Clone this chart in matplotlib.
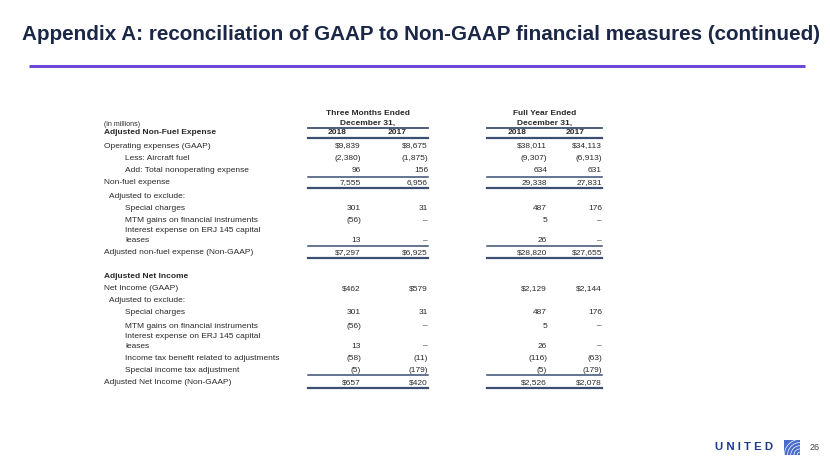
import matplotlib
matplotlib.use("Agg")
import matplotlib.pyplot as plt
from matplotlib.patches import Rectangle, Wedge

# ---------------- data ----------------
title = "Appendix A: reconciliation of GAAP to Non-GAAP financial measures (continued)"
group_headers = [("Three Months Ended", "December 31,"), ("Full Year Ended", "December 31,")]
year_labels = ["2018", "2017", "2018", "2017"]

sec1_title = "Adjusted Non-Fuel Expense"
sec1_labels = ["Operating expenses (GAAP)", "Less: Aircraft fuel", "Add: Total nonoperating expense",
               "Non-fuel expense", "Adjusted to exclude:", "Special charges",
               "MTM gains on financial instruments", "Interest expense on ERJ 145 capital\nleases",
               "Adjusted non-fuel expense (Non-GAAP)"]
sec1_indent = [0, 2, 2, 0, 1, 2, 2, 2, 0]
sec1_q4_2018 = [9839, -2380, 96, 7555, None, 301, -56, 13, 7297]
sec1_q4_2017 = [8675, -1875, 156, 6956, None, 31, 0, 0, 6925]
sec1_fy_2018 = [38011, -9307, 634, 29338, None, 487, 5, 26, 28820]
sec1_fy_2017 = [34113, -6913, 631, 27831, None, 176, 0, 0, 27655]
sec1_dollar = [True, False, False, False, False, False, False, False, True]

sec2_title = "Adjusted Net Income"
sec2_labels = ["Net Income (GAAP)", "Adjusted to exclude:", "Special charges",
               "MTM gains on financial instruments", "Interest expense on ERJ 145 capital\nleases",
               "Income tax benefit related to adjustments", "Special income tax adjustment",
               "Adjusted Net Income (Non-GAAP)"]
sec2_indent = [0, 1, 2, 2, 2, 2, 2, 0]
sec2_q4_2018 = [462, None, 301, -56, 13, -58, -5, 657]
sec2_q4_2017 = [579, None, 31, 0, 0, -11, -179, 420]
sec2_fy_2018 = [2129, None, 487, 5, 26, -116, -5, 2526]
sec2_fy_2017 = [2144, None, 176, 0, 0, -63, -179, 2078]
sec2_dollar = [True, False, False, False, False, False, False, True]


def fmt(v, dollar):
    if v is None:
        return ""
    if v == 0:
        return "\u2013"
    s = f"{abs(v):,}"
    if dollar:
        s = "$" + s
    if v < 0:
        s = "(" + s + ")"
    return s


# ---------------- figure ----------------
plt.rcParams['font.family'] = ['Liberation Sans', 'DejaVu Sans']
fig = plt.figure(figsize=(8.30, 4.67), dpi=100)
ax = fig.add_axes([0, 0, 1, 1])
ax.set_xlim(0, 830)
ax.set_ylim(467, 0)
ax.axis("off")

navy = "#1b2747"
txt = "#2a2a2a"
rule = "#3c4f72"

ax.text(22, 34, title, fontsize=14.9, fontweight="bold", color=navy, va="center", ha="left")
ax.plot([29, 805], [66, 66], color="#6a4ad6", lw=2.2, solid_capstyle="butt")

fs = 6.0
lab_x = [104, 109, 125]
col_x = [361, 428, 547, 602]
year_x = [337, 397, 517, 575]
grp = [(308, 428), (487, 602)]

# header
for (x0, x1), (h1, h2) in zip(grp, group_headers):
    ax.text((x0 + x1) / 2, 113.5, h1, fontsize=fs, fontweight="bold", color=txt, ha="center", va="center")
    ax.text((x0 + x1) / 2, 123, h2, fontsize=fs, fontweight="bold", color=txt, ha="center", va="center")
ax.text(104, 124, "(in millions)", fontsize=fs - 1.0, color=txt, va="center")
ax.text(104, 133, sec1_title, fontsize=fs, fontweight="bold", color=txt, va="center")
for yx, yl in zip(year_x, year_labels):
    ax.text(yx, 133, yl, fontsize=fs, fontweight="bold", color=txt, va="center", ha="center")
for x0, x1 in grp:
    ax.plot([x0, x1], [128, 128], color=rule, lw=1.3)
    ax.plot([x0, x1], [137.5, 137.5], color=rule, lw=1.6)


def draw_section(labels, indent, cols, dollar, ys, rules):
    for i, lab in enumerate(labels):
        y = ys[i]
        if "\n" in lab:
            a, b = lab.split("\n")
            ax.text(lab_x[indent[i]], y - 10, a, fontsize=fs, color=txt, va="center")
            ax.text(lab_x[indent[i]], y, b, fontsize=fs, color=txt, va="center")
        else:
            ax.text(lab_x[indent[i]], y, lab, fontsize=fs, color=txt, va="center")
        for cx, vals in zip(col_x, cols):
            ax.text(cx, y, fmt(vals[i], dollar[i]), fontsize=fs, color=txt, va="center", ha="right")
    for ry, lw in rules:
        for x0, x1 in grp:
            ax.plot([x0, x1], [ry, ry], color=rule, lw=lw)


ys1 = [146, 159, 171, 183, 196, 208, 221, 241, 253]
draw_section(sec1_labels, sec1_indent,
             [sec1_q4_2018, sec1_q4_2017, sec1_fy_2018, sec1_fy_2017],
             sec1_dollar, ys1, [(176.5, 1.1), (188, 1.6), (245.5, 1.1), (257.5, 1.6)])

ax.text(104, 276, sec2_title, fontsize=fs, fontweight="bold", color=txt, va="center")
ys2 = [289, 301, 313, 326, 346, 358, 370, 383]
draw_section(sec2_labels, sec2_indent,
             [sec2_q4_2018, sec2_q4_2017, sec2_fy_2018, sec2_fy_2017],
             sec2_dollar, ys2, [(374.5, 1.1), (387.5, 1.6)])

# footer logo
ax.text(715, 446.5, "U N I T E D", fontsize=8.2, fontweight="bold", color="#1d3a8f",
        va="center", ha="left")
ax.add_patch(Rectangle((784, 440), 16, 15, facecolor="#4a6ccc", edgecolor="none"))
for k in range(1, 6):
    ax.add_patch(Wedge((800, 455), 3.2 * k, 180, 270, width=0.7, facecolor="white", edgecolor="none"))
ax.text(815, 448, "26", fontsize=6.5, color="#444444", va="center", ha="center")

fig.savefig("out.png", dpi=100)
